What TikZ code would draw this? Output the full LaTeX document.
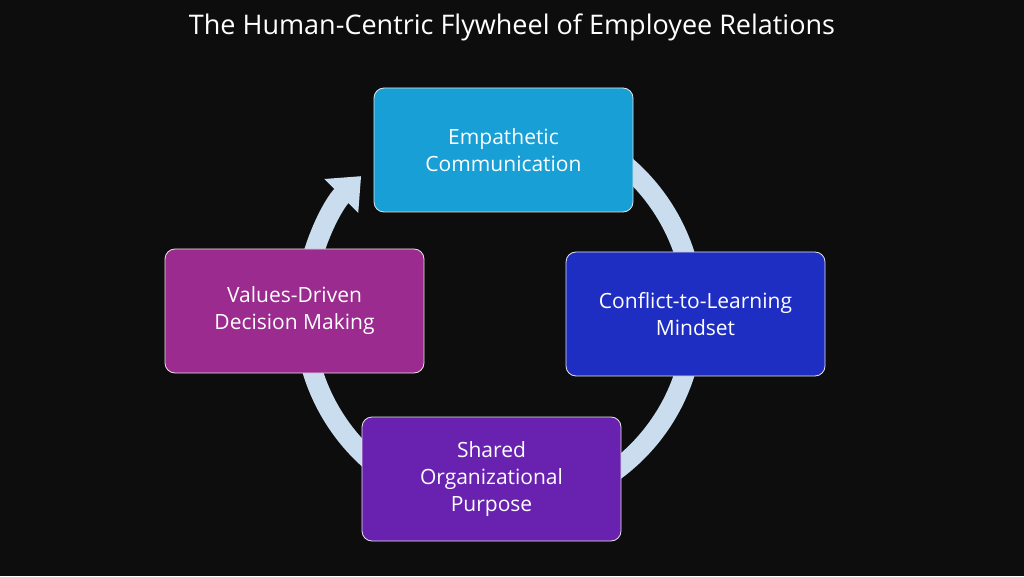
\documentclass[tikz,border=0pt]{standalone}
\usepackage{fontspec}
\setmainfont{Open Sans}
\usetikzlibrary{arrows.meta,calc}
\definecolor{bgdark}{HTML}{0D0D0D}
\definecolor{ringblue}{HTML}{C9DDEE}
\definecolor{empcol}{HTML}{179FD6}
\definecolor{concol}{HTML}{1F2EC2}
\definecolor{shacol}{HTML}{6922AF}
\definecolor{valcol}{HTML}{9B2B8E}
\tikzset{
  stagebox/.style={draw=white!80!gray, line width=0.8pt, rounded corners=10pt,
    minimum width=259pt, minimum height=124pt, text=white, align=center,
    font=\fontsize{21}{27}\selectfont}
}
\begin{document}
\begin{tikzpicture}[x=1pt,y=1pt]
  \fill[bgdark] (0,0) rectangle (1024,576);
  \useasboundingbox (0,0) rectangle (1024,576);
  \node[text=white, font=\fontsize{27}{32}\selectfont] (title) at (512,549) {The Human-Centric Flywheel of Employee Relations};
  % ring
  \coordinate (hub) at (499,262);
  \draw[ringblue, line width=20pt, -{Triangle[width=46pt,length=28pt]}]
    ($(hub)+(80:195)$) arc[start angle=80, end angle=-225, radius=195];
  % stages
  \node[stagebox, fill=empcol] (emp) at (503.5,426) {Empathetic\\Communication};
  \node[stagebox, fill=concol] (con) at (695.5,262) {Conflict-to-Learning\\Mindset};
  \node[stagebox, fill=shacol] (sha) at (491.5,97) {Shared\\Organizational\\Purpose};
  \node[stagebox, fill=valcol] (val) at (294.5,265) {Values-Driven\\Decision Making};
\end{tikzpicture}
\end{document}
